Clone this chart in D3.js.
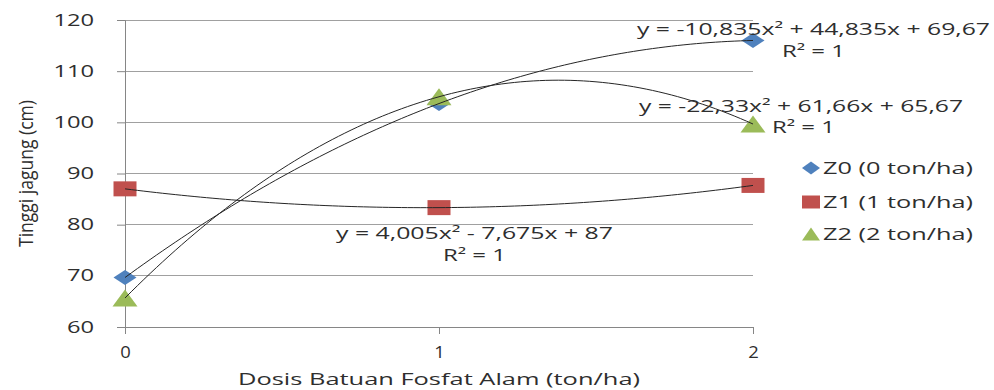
<!DOCTYPE html>
<html><head><meta charset="utf-8">
<script src="https://cdn.jsdelivr.net/npm/d3@7"></script>
<style>
html,body{margin:0;padding:0;background:#fff;}
svg text{font-family:"Open Sans",sans-serif;fill:#2e2e2e;}
</style></head>
<body><svg id="c" width="994" height="390"></svg>
<script>
// ---- data ----
const doses = [0, 1, 2];
const yTicks = [60, 70, 80, 90, 100, 110, 120];
const seriesNames = ["Z0 (0 ton/ha)", "Z1 (1 ton/ha)", "Z2 (2 ton/ha)"];
const z0Values = [69.67, 103.67, 116.0];
const z1Values = [87.0, 83.33, 87.67];
const z2Values = [65.67, 105.0, 99.67];
// trendline coefficients y = a x^2 + b x + c (as printed on chart)
const trendA = [-10.835, 4.005, -22.33];
const trendB = [44.835, -7.675, 61.66];
const trendC = [69.67, 87, 65.67];
const equations = ["y = -10,835x² + 44,835x + 69,67", "y = 4,005x² - 7,675x + 87", "y = -22,33x² + 61,66x + 65,67"];
const r2Labels = ["R² = 1", "R² = 1", "R² = 1"];
const xTitle = "Dosis Batuan Fosfat Alam (ton/ha)";
const yTitle = "Tinggi jagung (cm)";

// ---- styles / layout ----
const colors = ["#4F81BD", "#C0504D", "#9BBB59"];
const shapes = ["diamond", "square", "triangle"];
const allValues = [z0Values, z1Values, z2Values];
const svg = d3.select("#c");
const x = d3.scaleLinear().domain([0, 2]).range([125, 753]);
const y = d3.scaleLinear().domain([60, 120]).range([327, 20]);

function stretch(sel, f) {
  sel.each(function () {
    const n = this.getComputedTextLength();
    this.setAttribute("textLength", n * f);
    this.setAttribute("lengthAdjust", "spacingAndGlyphs");
  });
}
function fitWidth(sel, w) {
  sel.attr("textLength", w).attr("lengthAdjust", "spacingAndGlyphs");
}
function shapePath(s, w, h) {
  if (s === "diamond") return `M0,${-h/2}L${w/2},0L0,${h/2}L${-w/2},0Z`;
  if (s === "square") return `M${-w/2},${-h/2}H${w/2}V${h/2}H${-w/2}Z`;
  return `M0,${-h/2}L${w/2},${h/2}L${-w/2},${h/2}Z`;
}

// gridlines
svg.append("g").selectAll("line").data(yTicks.slice(1)).join("line")
  .attr("x1", x(0)).attr("x2", x(2)).attr("y1", d => y(d)).attr("y2", d => y(d))
  .attr("stroke", "#a0a0a0").attr("stroke-width", 1).attr("shape-rendering", "crispEdges");

// axes
const yAxis = svg.append("g").attr("transform", `translate(${x(0)},0)`)
  .call(d3.axisLeft(y).tickValues(yTicks).tickSize(8).tickPadding(23));
const xAxis = svg.append("g").attr("transform", `translate(0,${y(60)})`)
  .call(d3.axisBottom(x).tickValues(doses).tickSize(7).tickPadding(13).tickFormat(d3.format("d")));
[yAxis, xAxis].forEach(a => {
  a.select(".domain").attr("stroke", "#868686");
  a.selectAll(".tick line").attr("stroke", "#868686");
  a.selectAll("text").style("font-size", "16px").attr("fill", "#2e2e2e");
});
yAxis.selectAll("text").call(stretch, 1.48);
xAxis.selectAll("text").call(stretch, 1.15);

// markers
allValues.forEach((vals, i) => {
  svg.append("g").selectAll("path").data(vals).join("path")
    .attr("transform", (d, j) => `translate(${x(doses[j])},${y(d)})`)
    .attr("d", shapePath(shapes[i], i === 2 ? 25 : 23, i === 2 ? 17 : 15))
    .attr("fill", colors[i]);
});

// trendlines
const line = d3.line().x(d => x(d[0])).y(d => y(d[1])).curve(d3.curveLinear);
const xs = d3.range(0, 2.0001, 0.02);
trendA.forEach((a, i) => {
  const pts = xs.map(t => [t, a * t * t + trendB[i] * t + trendC[i]]);
  svg.append("path").attr("d", line(pts)).attr("fill", "none")
    .attr("stroke", "#262626").attr("stroke-width", 1);
});

// equation labels: [eqX, eqY, eqWidth, r2X, r2Y]
const eqPos = [[637, 35, 353, 782, 57], [336, 239, 277, 443, 261], [639, 112, 324, 772, 133]];
equations.forEach((e, i) => {
  svg.append("text").attr("x", eqPos[i][0]).attr("y", eqPos[i][1])
    .style("font-size", "16px").text(e).call(fitWidth, eqPos[i][2]);
  svg.append("text").attr("x", eqPos[i][3]).attr("y", eqPos[i][4])
    .style("font-size", "16px").text(r2Labels[i]).call(fitWidth, 63);
});

// legend
const legY = [168, 202, 234];
seriesNames.forEach((n, i) => {
  svg.append("path").attr("transform", `translate(811,${legY[i]})`)
    .attr("d", shapePath(shapes[i], 18, 13)).attr("fill", colors[i]);
  svg.append("text").attr("x", 823).attr("y", legY[i]).attr("dy", "0.36em")
    .style("font-size", "17px").text(n).call(fitWidth, 150);
});

// axis titles
svg.append("text").attr("x", 238).attr("y", 385)
  .style("font-size", "17px").text(xTitle).call(fitWidth, 402);
svg.append("text").attr("transform", "translate(33,247) rotate(-90)")
  .style("font-size", "20px").text(yTitle).call(fitWidth, 147);
</script></body></html>
